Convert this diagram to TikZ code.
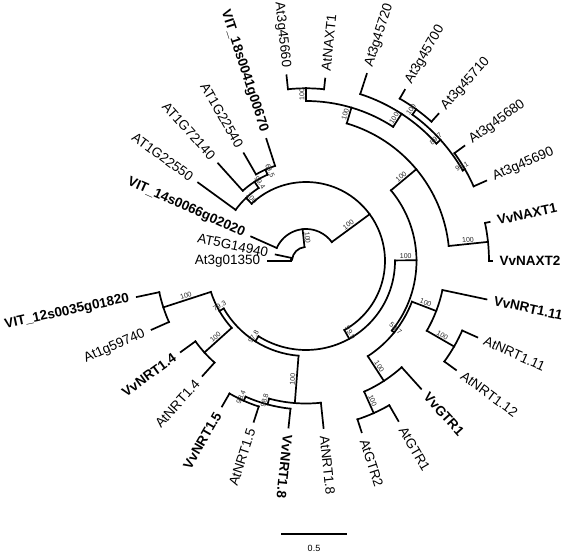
\documentclass[tikz,border=0pt]{standalone}
\usepackage{fontspec}
\setmainfont{Liberation Sans}
% radial branch: angle (screen, clockwise), r from, r to
\newcommand\tbr[3]{\draw (-#1:#2pt) -- (-#1:#3pt);}
% arc: first angle, last angle, radius
\newcommand\tarc[3]{\draw (-#1:#3pt) arc[start angle=-#1, end angle=-#2, radius=#3pt];}
% leaf labels: angle, radius, name, text, style
\newcommand\lfR[5]{\node[#5, anchor=west, rotate=-#1] (#3) at (-#1:#2pt+4.5pt) {#4};}
\newcommand\lfL[5]{\node[#5, anchor=east, rotate=180-#1] (#3) at (-#1:#2pt+4.5pt) {#4};}
% support labels: angle, radius, text
\newcommand\bsR[3]{\node[supl, anchor=south, rotate=-#1] at (-#1:#2pt) {#3};}
\newcommand\bsL[3]{\node[supl, anchor=south, rotate=180-#1] at (-#1:#2pt) {#3};}
\begin{document}
\begin{tikzpicture}[x=1pt,y=1pt, line width=1.7pt, line cap=rect,
  leaf/.style={font=\fontsize{13.5}{15}\selectfont, inner sep=2.5pt},
  bleaf/.style={font=\fontsize{13.5}{15}\selectfont\bfseries, inner sep=2.5pt},
  supl/.style={font=\fontsize{7}{8}\selectfont, inner sep=0.7pt, text=black!85}]
\useasboundingbox (0,0) rectangle (567,-553);
\begin{scope}[shift={(306,-261)}]
% ---- root and clade A
\tarc{186}{263.86}{14}
\tbr{186}{14}{15} \tarc{180}{192}{15}
\tbr{180}{15}{38} \tbr{192}{15}{31}
% ---- B
\tbr{263.86}{14}{32} \tarc{204}{323.7}{32}
\tbr{204}{32}{60}
% ---- C
\tbr{323.7}{32}{79} \tarc{226.5}{420.94}{79}
% ---- D
\tbr{226.5}{79}{87} \tarc{216}{237}{87}
\tbr{216}{87}{133.4}
\tbr{237}{87}{94.5} \tarc{228}{246}{94.5}
\tbr{228}{94.5}{131.4}
\tbr{246}{94.5}{100} \tarc{240}{252}{100}
\tbr{240}{100}{124.4} \tbr{252}{100}{128.4}
% ---- E
\tbr{60.94}{79}{89} \tarc{359.625}{482.25}{89}
% ---- N8
\tbr{359.625}{89}{110.5} \tarc{320.25}{399}{110.5}
% N7
\tbr{320.25}{110.5}{143.5} \tarc{286.5}{354}{143.5}
% N6
\tbr{286.5}{143.5}{160} \tarc{270}{303}{160}
% N1
\tbr{270}{160}{172.7} \tarc{264}{276}{172.7}
\tbr{264}{172.7}{186.7} \tbr{276}{172.7}{183.4}
% N5
\tbr{303}{160}{175.5} \tarc{288}{318}{175.5}
\tbr{288}{175.5}{196.7}
% N4
\tbr{318}{175.5}{181} \tarc{306}{330}{181}
% N2
\tbr{306}{181}{187.5} \tarc{300}{312}{187.5}
\tbr{300}{187.5}{197.6} \tbr{312}{187.5}{198}
% N3
\tbr{330}{181}{183.5} \tarc{324}{336}{183.5}
\tbr{324}{183.5}{195.8} \tbr{336}{183.5}{197.3}
% NV
\tbr{354}{143.5}{183} \tarc{348}{360}{183}
\tbr{348}{183}{187.7} \tbr{360}{183}{185.7}
% X
\tbr{39}{110.5}{113.5} \tarc{21}{57}{113.5}
% Q
\tbr{21}{113.5}{139.5} \tarc{12}{30}{139.5}
\tbr{12}{139.5}{184.5}
\tbr{30}{139.5}{171} \tarc{24}{36}{171}
\tbr{24}{171}{187.5} \tbr{36}{171}{185.4}
% G
\tbr{57}{113.5}{143} \tarc{48}{66}{143}
\tbr{48}{143}{172}
\tbr{66}{143}{166.5} \tarc{60}{72}{166.5}
\tbr{60}{166.5}{184.7} \tbr{72}{166.5}{180}
% ---- W
\tbr{122.25}{89}{95} \tarc{94.5}{150}{95}
% P
\tbr{94.5}{95}{142.5} \tarc{84}{105}{142.5}
\tbr{84}{142.5}{168}
\tbr{105}{142.5}{148.5} \tarc{96}{114}{148.5}
\tbr{96}{148.5}{167.5}
\tbr{114}{148.5}{153} \tarc{108}{120}{153}
\tbr{108}{153}{169} \tbr{120}{153}{168}
% V
\tbr{150}{95}{100} \tarc{138}{162}{100}
\tbr{138}{100}{136.7} \tarc{132}{144}{136.7}
\tbr{132}{136.7}{154.7} \tbr{144}{136.7}{154.8}
\tbr{162}{100}{150} \tarc{156}{168}{150}
\tbr{156}{150}{169} \tbr{168}{150}{173}
% ---- leaf labels
\lfR{84}{168}{l0}{AtNRT1.8}{leaf}
\lfR{96}{167.5}{l1}{VvNRT1.8}{bleaf}
\lfL{108}{169}{l2}{AtNRT1.5}{leaf}
\lfL{120}{168}{l3}{VvNRT1.5}{bleaf}
\lfL{132}{154.7}{l4}{AtNRT1.4}{leaf}
\lfL{144}{154.8}{l5}{VvNRT1.4}{bleaf}
\lfL{156}{169}{l6}{At1g59740}{leaf}
\lfL{168}{173}{l7}{VIT\_12s0035g01820}{bleaf}
\lfL{180}{38}{l8}{At3g01350}{leaf}
\lfL{192}{31}{l9}{AT5G14940}{leaf}
\lfL{204}{60}{l10}{VIT\_14s0066g02020}{bleaf}
\lfL{216}{133.4}{l11}{AT1G22550}{leaf}
\lfL{228}{131.4}{l12}{AT1G72140}{leaf}
\lfL{240}{124.4}{l13}{AT1G22540}{leaf}
\lfL{252}{128.4}{l14}{VIT\_18s0041g00670}{bleaf}
\lfL{264}{186.7}{l15}{At3g45660}{leaf}
\lfR{276}{183.4}{l16}{AtNAXT1}{leaf}
\lfR{288}{196.7}{l17}{At3g45720}{leaf}
\lfR{300}{197.6}{l18}{At3g45700}{leaf}
\lfR{312}{198}{l19}{At3g45710}{leaf}
\lfR{324}{195.8}{l20}{At3g45680}{leaf}
\lfR{336}{197.3}{l21}{At3g45690}{leaf}
\lfR{348}{187.7}{l22}{VvNAXT1}{bleaf}
\lfR{360}{185.7}{l23}{VvNAXT2}{bleaf}
\lfR{12}{184.5}{l24}{VvNRT1.11}{bleaf}
\lfR{24}{187.5}{l25}{AtNRT1.11}{leaf}
\lfR{36}{185.4}{l26}{AtNRT1.12}{leaf}
\lfR{48}{172}{l27}{VvGTR1}{bleaf}
\lfR{60}{184.7}{l28}{AtGTR1}{leaf}
\lfR{72}{180}{l29}{AtGTR2}{leaf}
% ---- support values
\bsL{263.86}{23}{100}
\bsR{323.7}{55.5}{100}
\bsL{226.5}{83}{100}
\bsL{237}{90.75}{99.4}
\bsL{246}{97.25}{69.5}
\bsR{60.94}{84}{99.9}
\bsR{359.625}{99.75}{100}
\bsR{320.25}{127}{100}
\bsR{286.5}{151.75}{100}
\bsR{270}{166.35}{100}
\bsR{303}{167.75}{100}
\bsR{318}{178.25}{89.7}
\bsR{306}{184.25}{100}
\bsR{330}{182.25}{99.1}
\bsR{354}{163.25}{100}
\bsR{39}{112}{58.7}
\bsR{21}{126.75}{100}
\bsR{30}{155.25}{100}
\bsR{57}{128.5}{100}
\bsR{66}{154.75}{100}
\bsL{122.25}{92}{97.8}
\bsL{94.5}{118.75}{100}
\bsL{105}{145.5}{98.8}
\bsL{114}{150.75}{98.4}
\bsL{150}{97.5}{79.3}
\bsL{138}{118.35}{100}
\bsL{162}{125}{100}
\end{scope}
% ---- scale bar
\coordinate (s1) at (281.7,-534);
\coordinate (s2) at (346,-534);
\draw[line width=1.3pt] (s1) -- (s2);
\node[font=\fontsize{9}{10}\selectfont] (sl) at (314,-548) {0.5};
\end{tikzpicture}
\end{document}
